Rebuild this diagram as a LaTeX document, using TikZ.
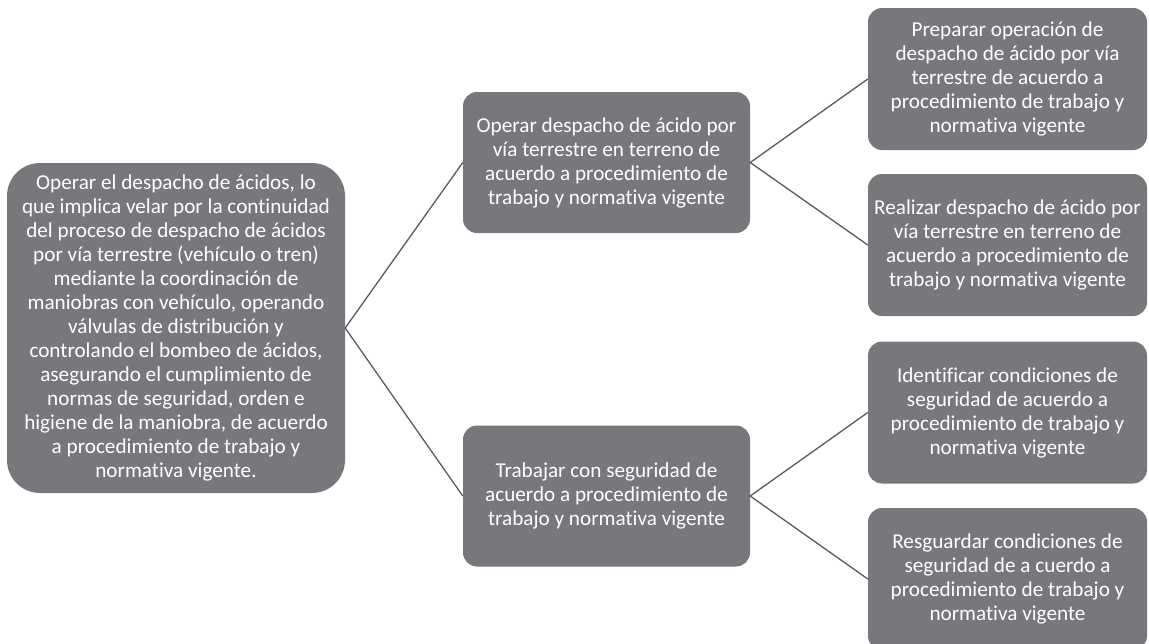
\documentclass[tikz,border=0pt]{standalone}
\usepackage{fontspec}
\setmainfont{Carlito}[Ligatures=NoCommon]
\definecolor{boxgray}{RGB}{119,120,123}
\definecolor{linegray}{RGB}{90,90,90}
\tikzset{
  box/.style={rectangle, fill=boxgray, text=white, align=center, inner sep=0pt,
    font=\fontsize{21.2}{24}\selectfont},
  bigbox/.style={box, rounded corners=33pt, minimum width=338pt, minimum height=330pt},
  midbox/.style={box, rounded corners=14pt, minimum width=287pt, minimum height=141pt},
  rbox/.style={box, rounded corners=14pt, minimum width=279pt, minimum height=142pt},
  link/.style={draw=linegray, line width=1.3pt}
}
\begin{document}
\begin{tikzpicture}[x=1pt,y=-1pt]
\clip (0,0) rectangle (1149,643);
\fill[white] (0,0) rectangle (1149,643);

\node[bigbox] (L) at (176,328) {Operar el despacho de ácidos, lo\\que implica velar por la continuidad\\del proceso de despacho de ácidos\\por vía terrestre (vehículo o tren)\\mediante la coordinación de\\maniobras con vehículo, operando\\válvulas de distribución y\\controlando el bombeo de ácidos,\\asegurando el cumplimiento de\\normas de seguridad, orden e\\higiene de la maniobra, de acuerdo\\a procedimiento de trabajo y\\normativa vigente.};

\node[midbox] (M1) at (606.5,162.5) {Operar despacho de ácido por\\vía terrestre en terreno de\\acuerdo a procedimiento de\\trabajo y normativa vigente};
\node[midbox] (M2) at (606.5,496) {Trabajar con seguridad de\\acuerdo a procedimiento de\\trabajo y normativa vigente};

\node[rbox] (R1) at (1007.5,79) {Preparar operación de\\despacho de ácido por vía\\terrestre de acuerdo a\\procedimiento de trabajo y\\normativa vigente};
\node[rbox] (R2) at (1007.5,245) {Realizar despacho de ácido por\\vía terrestre en terreno de\\acuerdo a procedimiento de\\trabajo y normativa vigente};
\node[rbox] (R3) at (1007.5,412.5) {Identificar condiciones de\\seguridad de acuerdo a\\procedimiento de trabajo y\\normativa vigente};
\node[rbox] (R4) at (1007.5,579) {Resguardar condiciones de\\seguridad de a cuerdo a\\procedimiento de trabajo y\\normativa vigente};

\draw[link] (M1.west) -- (L.east) -- (M2.west);
\draw[link] (R1.west) -- (M1.east) -- (R2.west);
\draw[link] (R3.west) -- (M2.east) -- (R4.west);
\end{tikzpicture}
\end{document}
